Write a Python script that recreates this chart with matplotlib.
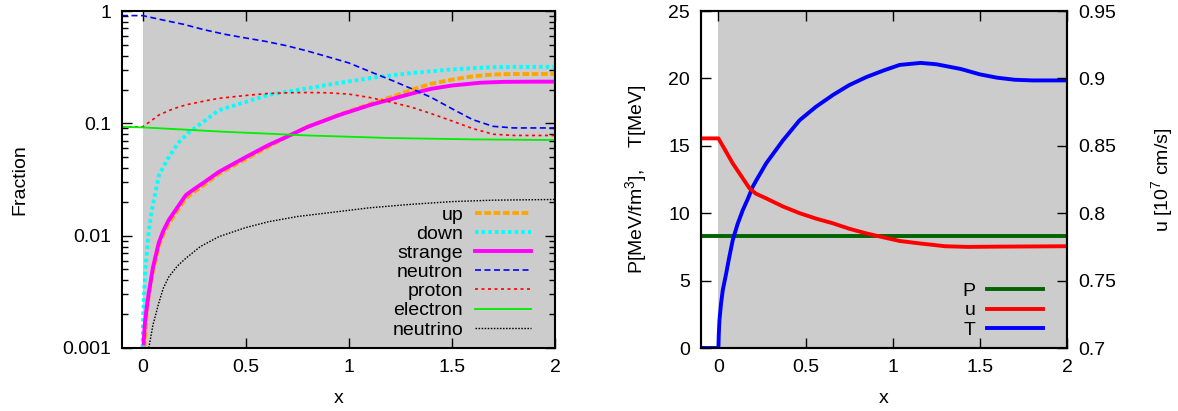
import matplotlib
matplotlib.use("Agg")
import matplotlib.pyplot as plt

plt.rcParams['font.family'] = ['Liberation Sans', 'DejaVu Sans']
plt.rcParams['mathtext.default'] = 'regular'
plt.rcParams['font.size'] = 14

# ---------------- left panel data (fractions) ----------------
x_neutron = [-0.1, 0.0, 0.1, 0.2, 0.3, 0.4, 0.5, 0.6, 0.7, 0.8, 0.9, 1.0, 1.1, 1.2, 1.3, 1.4, 1.5, 1.6, 1.7, 1.8, 1.9, 2.0]
neutron = [0.91, 0.91, 0.83, 0.76, 0.68, 0.62, 0.575, 0.535, 0.49, 0.44, 0.39, 0.345, 0.29, 0.245, 0.205, 0.17, 0.135, 0.108, 0.094, 0.091, 0.091, 0.091]

x_proton = [-0.1, 0.0, 0.04, 0.08, 0.15, 0.21, 0.3, 0.37, 0.5, 0.6, 0.7, 0.8, 0.9, 1.0, 1.1, 1.2, 1.3, 1.4, 1.5, 1.6, 1.7, 1.8, 1.9, 2.0]
proton = [0.093, 0.093, 0.105, 0.119, 0.135, 0.146, 0.158, 0.167, 0.177, 0.184, 0.187, 0.188, 0.187, 0.182, 0.17, 0.155, 0.14, 0.122, 0.105, 0.09, 0.08, 0.078, 0.078, 0.078]

x_electron = [-0.1, 0.0, 0.2, 0.4, 0.6, 0.8, 1.0, 1.2, 1.4, 1.6, 1.8, 2.0]
electron = [0.093, 0.092, 0.088, 0.084, 0.081, 0.078, 0.076, 0.074, 0.073, 0.072, 0.0715, 0.071]

x_strange = [0.005, 0.01, 0.02, 0.03, 0.05, 0.078, 0.1, 0.127, 0.17, 0.21, 0.25, 0.3, 0.37, 0.5, 0.61, 0.7, 0.8, 0.956, 1.1, 1.2, 1.31, 1.4, 1.5, 1.64, 1.75, 1.9, 2.0]
strange = [0.0011, 0.0016, 0.0023, 0.0031, 0.0052, 0.0086, 0.011, 0.0138, 0.018, 0.023, 0.026, 0.030, 0.037, 0.05, 0.064, 0.076, 0.093, 0.119, 0.145, 0.163, 0.185, 0.203, 0.217, 0.23, 0.234, 0.235, 0.235]

x_up = [0.008, 0.02, 0.03, 0.05, 0.078, 0.1, 0.127, 0.17, 0.21, 0.25, 0.3, 0.37, 0.5, 0.61, 0.7, 0.8, 0.956, 1.1, 1.2, 1.31, 1.4, 1.5, 1.6, 1.7, 1.8, 1.9, 2.0]
up = [0.001, 0.0021, 0.0029, 0.0048, 0.008, 0.0102, 0.0128, 0.0168, 0.0215, 0.0245, 0.0285, 0.0355, 0.048, 0.062, 0.076, 0.093, 0.12, 0.148, 0.17, 0.2, 0.225, 0.245, 0.262, 0.272, 0.275, 0.275, 0.275]

x_down = [0.0, 0.003, 0.013, 0.03, 0.045, 0.08, 0.127, 0.17, 0.22, 0.3, 0.37, 0.5, 0.61, 0.8, 0.94, 1.15, 1.3, 1.48, 1.6, 1.7, 1.8, 1.9, 2.0]
down = [0.001, 0.002, 0.005, 0.011, 0.017, 0.035, 0.05, 0.066, 0.082, 0.105, 0.131, 0.155, 0.179, 0.205, 0.227, 0.26, 0.28, 0.30, 0.31, 0.316, 0.318, 0.318, 0.318]

x_neutrino = [0.03, 0.05, 0.078, 0.1, 0.127, 0.17, 0.21, 0.28, 0.37, 0.5, 0.61, 0.75, 0.94, 1.1, 1.3, 1.5, 1.7, 2.0]
neutrino = [0.001, 0.0016, 0.0025, 0.0034, 0.0043, 0.0054, 0.0063, 0.008, 0.0098, 0.0118, 0.0133, 0.0148, 0.0163, 0.0177, 0.019, 0.0201, 0.0207, 0.021]

# ---------------- right panel data ----------------
x_P = [-0.1, 2.0]
P = [8.3, 8.3]

x_T = [-0.1, 0.0, 0.002, 0.006, 0.015, 0.025, 0.044, 0.06, 0.082, 0.11, 0.14, 0.17, 0.197, 0.22, 0.274, 0.37, 0.466, 0.56, 0.657, 0.75, 0.849, 0.95, 1.04, 1.16, 1.25, 1.39, 1.5, 1.6, 1.7, 1.8, 2.0]
T = [0.0, 0.0, 1.0, 2.08, 3.3, 4.3, 5.5, 6.6, 8.0, 9.2, 10.24, 11.1, 11.97, 12.5, 13.7, 15.4, 16.9, 17.9, 18.77, 19.5, 20.1, 20.6, 21.0, 21.15, 21.05, 20.7, 20.3, 20.05, 19.9, 19.85, 19.85]

x_u = [-0.1, 0.0, 0.082, 0.178, 0.215, 0.274, 0.37, 0.466, 0.56, 0.657, 0.75, 0.849, 0.95, 1.04, 1.16, 1.3, 1.43, 1.6, 2.0]
u = [0.8555, 0.8555, 0.837, 0.8185, 0.8145, 0.811, 0.805, 0.800, 0.796, 0.7925, 0.7885, 0.785, 0.782, 0.7794, 0.7775, 0.7755, 0.775, 0.7752, 0.7755]

xticks = [0, 0.5, 1, 1.5, 2]
xticklabels = ['0', '0.5', '1', '1.5', '2']

fig = plt.figure(figsize=(11.78, 4.11), dpi=100)

GRAY = '#cccccc'

# ---------------- left panel ----------------
ax1 = fig.add_axes([122/1178, 63/411, 433/1178, 337/411])
ax1.axvspan(0, 2, color=GRAY, zorder=0, lw=0)
ax1.set_yscale('log')
ax1.set_xlim(-0.1, 2)
ax1.set_ylim(0.001, 1)

ax1.plot(x_up, up, color='#ffa500', lw=2.8, dashes=(1.7, 0.7), label='up')
ax1.plot(x_down, down, color='#00ffff', lw=2.8, dashes=(0.9, 0.8), label='down')
ax1.plot(x_strange, strange, color='#ff00ff', lw=2.8, label='strange')
ax1.plot(x_neutron, neutron, color='#0000ff', lw=1.2, dashes=(3.6, 2.1), label='neutron')
ax1.plot(x_proton, proton, color='#ff0000', lw=1.2, dashes=(1.8, 2.1), label='proton')
ax1.plot(x_electron, electron, color='#00ee00', lw=1.3, label='electron')
ax1.plot(x_neutrino, neutrino, color='black', lw=1.0, dashes=(1.1, 1.1), label='neutrino')

ax1.set_yticks([0.001, 0.01, 0.1, 1])
ax1.set_yticklabels(['0.001', '0.01', '0.1', '1'])
ax1.set_xticks(xticks)
ax1.set_xticklabels(xticklabels)
ax1.tick_params(which='both', direction='in', top=True, right=True)
ax1.tick_params(which='major', length=7, width=1, pad=8)
ax1.tick_params(which='minor', length=4, width=1)
ax1.set_xlabel('x', labelpad=10)
ax1.set_ylabel('Fraction', labelpad=24)
for s in ax1.spines.values():
    s.set_linewidth(1.5)
leg1 = ax1.legend(loc='lower right', bbox_to_anchor=(0.945, 0.028), frameon=False,
                  markerfirst=False, handlelength=2.9, handletextpad=0.6,
                  labelspacing=0.08, borderpad=0, borderaxespad=0)

# ---------------- right panel ----------------
ax2 = fig.add_axes([701/1178, 63/411, 366/1178, 337/411])
ax2.axvspan(0, 2, color=GRAY, zorder=0, lw=0)
ax2.set_xlim(-0.1, 2)
ax2.set_ylim(0, 25)
ax3 = ax2.twinx()
ax3.set_ylim(0.7, 0.95)

lP, = ax2.plot(x_P, P, color='#006400', lw=2.8, label='P')
lT, = ax2.plot(x_T, T, color='#0000ff', lw=2.8, label='T', zorder=5)
lu, = ax3.plot(x_u, u, color='#ff0000', lw=2.8, label='u')

ax2.set_xticks(xticks)
ax2.set_xticklabels(xticklabels)
ax2.set_yticks([0, 5, 10, 15, 20, 25])
ax3.set_yticks([0.7, 0.75, 0.8, 0.85, 0.9, 0.95])
ax3.set_yticklabels(['0.7', '0.75', '0.8', '0.85', '0.9', '0.95'])
ax2.tick_params(direction='in', top=True, length=7, width=1, pad=8)
ax3.tick_params(direction='in', length=7, width=1, pad=8)
ax2.set_xlabel('x', labelpad=10)
ax2.set_ylabel('P[MeV/fm$^3$],    T[MeV]', labelpad=14)
ax3.set_ylabel('u [10$^7$ cm/s]', labelpad=24)
for s in ax2.spines.values():
    s.set_linewidth(1.5)
for s in ax3.spines.values():
    s.set_linewidth(1.5)
leg2 = ax3.legend([lP, lu, lT], ['P', 'u', 'T'], loc='lower right',
                  bbox_to_anchor=(0.935, 0.028), frameon=False,
                  markerfirst=False, handlelength=2.9, handletextpad=0.6,
                  labelspacing=0.08, borderpad=0, borderaxespad=0)

fig.savefig('out.png', dpi=100)
